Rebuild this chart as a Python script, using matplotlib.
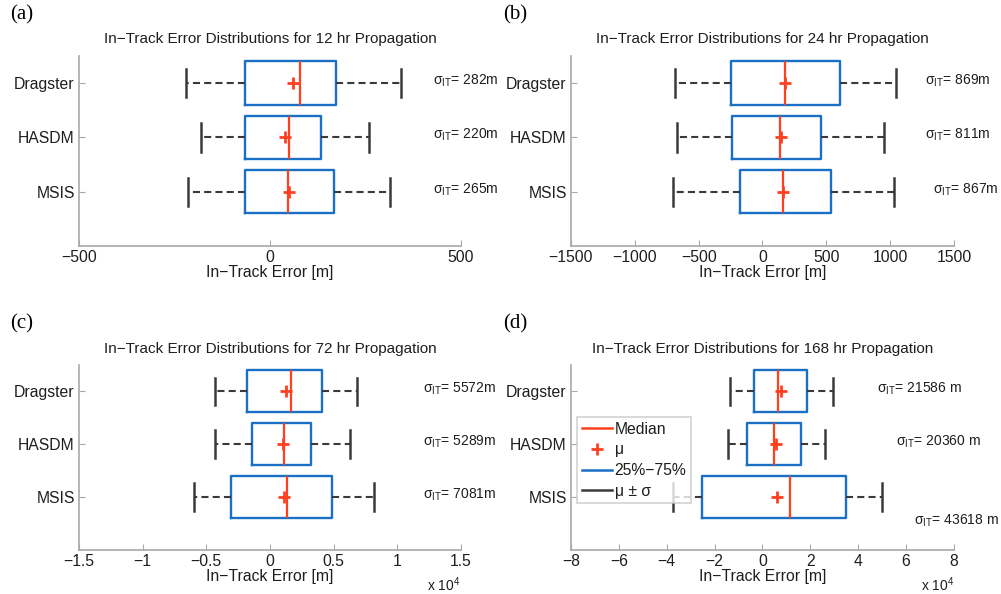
"""In-track error box plots for four propagation spans (12, 24, 72, 168 hr),
three density models each; whiskers show mean +/- one sigma."""

import matplotlib
matplotlib.use("Agg")
import matplotlib.pyplot as plt
from matplotlib.ticker import FuncFormatter
from matplotlib.lines import Line2D

plt.rcParams['font.family'] = ['Liberation Sans', 'DejaVu Sans']
plt.rcParams['mathtext.fontset'] = 'custom'
plt.rcParams['mathtext.rm'] = 'Liberation Sans'
plt.rcParams['mathtext.it'] = 'Liberation Sans:italic'

# models, bottom to top
models = ['MSIS', 'HASDM', 'Dragster']

# 12 hr
q1_12 = [-66, -65, -65]
q3_12 = [168, 133, 173]
med_12 = [48, 51, 78]
mean_12 = [50, 40, 61]
sig_12 = [265, 220, 282]

# 24 hr
q1_24 = [-177, -237, -250]
q3_24 = [535, 457, 605]
med_24 = [159, 141, 175]
mean_24 = [164, 142, 180]
sig_24 = [867, 811, 869]

# 72 hr
q1_72 = [-3063, -1440, -1832]
q3_72 = [4895, 3220, 4058]
med_72 = [1361, 1073, 1649]
mean_72 = [1099, 995, 1260]
sig_72 = [7081, 5289, 5572]

# 168 hr
q1_168 = [-25300, -6540, -3620]
q3_168 = [35060, 16280, 18500]
med_168 = [11550, 5000, 6680]
mean_168 = [6260, 5800, 7930]
sig_168 = [43618, 20360, 21586]

BLUE = '#1a6fc6'
RED = '#ff4020'
GRAY = '#3a3a3a'
AXGRAY = '#a8a8a8'
TXT = '#1e1e1e'


def fmt_minus(v, pos, scale=1.0):
    s = '%g' % (v / scale)
    return s.replace('-', '\u2212')


def draw_panel(ax, q1, q3, med, mean, sig, title, xlim, xticks, scale,
               sig_x, sig_y, unit):
    stats = []
    for i in range(len(models)):
        stats.append(dict(med=med[i], q1=q1[i], q3=q3[i], mean=mean[i],
                          whislo=mean[i] - sig[i], whishi=mean[i] + sig[i],
                          fliers=[], label=models[i]))
    ax.bxp(stats, positions=[1, 2, 3], widths=0.8, capwidths=0.52,
           orientation='horizontal', showmeans=True,
           boxprops=dict(color=BLUE, linewidth=1.7),
           medianprops=dict(color=RED, linewidth=1.6),
           whiskerprops=dict(color=GRAY, linewidth=1.5, linestyle=(0, (3.4, 2.0))),
           capprops=dict(color=GRAY, linewidth=1.8),
           meanprops=dict(marker='+', markeredgecolor=RED, markersize=8,
                          markeredgewidth=2.0))
    ax.set_ylim(0, 3.5)
    ax.set_xlim(*xlim)
    ax.set_xticks(xticks)
    ax.xaxis.set_major_formatter(FuncFormatter(lambda v, p: fmt_minus(v, p, scale)))
    ax.set_yticks([1, 2, 3])
    ax.set_yticklabels(models)
    for s in ['top', 'right']:
        ax.spines[s].set_visible(False)
    for s in ['left', 'bottom']:
        ax.spines[s].set_color(AXGRAY)
        ax.spines[s].set_linewidth(1.2)
    ax.tick_params(direction='in', length=4, color=AXGRAY, labelsize=11.3,
                   labelcolor=TXT, pad=3)
    ax.set_title(title, fontsize=11, color=TXT, pad=9)
    ax.set_xlabel('In\u2212Track Error [m]', fontsize=11.3, color=TXT, labelpad=0)
    for i in range(len(models)):
        ax.text(sig_x[i], sig_y[i], 'σ$_{\\rm IT}$= %d%s' % (sig[i], unit),
                fontsize=10, color=TXT, va='center', ha='left', clip_on=False)


fig = plt.figure(figsize=(10.01, 5.94), dpi=100)
ax_a = fig.add_axes([0.0789, 0.5859, 0.3816, 0.3199])
ax_b = fig.add_axes([0.5704, 0.5859, 0.3826, 0.3199])
ax_c = fig.add_axes([0.0789, 0.0749, 0.3816, 0.3106])
ax_d = fig.add_axes([0.5704, 0.0749, 0.3826, 0.3106])

draw_panel(ax_a, q1_12, q3_12, med_12, mean_12, sig_12,
           'In\u2212Track Error Distributions for 12 hr Propagation',
           (-500, 500), [-500, 0, 500], 1.0,
           [427, 427, 427], [1.04, 2.04, 3.04], 'm')
draw_panel(ax_b, q1_24, q3_24, med_24, mean_24, sig_24,
           'In\u2212Track Error Distributions for 24 hr Propagation',
           (-1500, 1500), [-1500, -1000, -500, 0, 500, 1000, 1500], 1.0,
           [1336, 1276, 1276], [1.04, 2.04, 3.04], 'm')
draw_panel(ax_c, q1_72, q3_72, med_72, mean_72, sig_72,
           'In\u2212Track Error Distributions for 72 hr Propagation',
           (-15000, 15000), [-15000, -10000, -5000, 0, 5000, 10000, 15000], 1e4,
           [11990, 11990, 11990], [1.04, 2.04, 3.04], 'm')
draw_panel(ax_d, q1_168, q3_168, med_168, mean_168, sig_168,
           'In\u2212Track Error Distributions for 168 hr Propagation',
           (-80000, 80000), list(range(-80000, 80001, 20000)), 1e4,
           [63300, 55900, 48000], [0.54, 2.04, 3.04], ' m')

# legend for the 168 hr panel
handles = [Line2D([], [], color=RED, lw=1.8),
           Line2D([], [], color=RED, lw=0, marker='+', markersize=8,
                  markeredgewidth=2.0),
           Line2D([], [], color=BLUE, lw=1.8),
           Line2D([], [], color=GRAY, lw=1.8)]
leg = ax_d.legend(handles, ['Median', 'μ', '25%\u221275%', 'μ ± σ'],
                  loc='upper left', bbox_to_anchor=(577 / 1001, 1 - 417 / 594),
                  bbox_transform=fig.transFigure, fontsize=11.3, frameon=True,
                  fancybox=False, handlelength=1.9, handletextpad=0.2,
                  labelspacing=0.36, borderpad=0.3, borderaxespad=0)
leg.get_frame().set_edgecolor('#c8c8c8')
leg.get_frame().set_linewidth(1.2)
for t in leg.get_texts():
    t.set_color(TXT)

# exponent notes under the last two panels
fig.text(427 / 1001, 1 - 591 / 594, 'x 10$^4$', fontsize=10, color=TXT,
         ha='left', va='baseline')
fig.text(921 / 1001, 1 - 591 / 594, 'x 10$^4$', fontsize=10, color=TXT,
         ha='left', va='baseline')

# panel letters
for lbl, x, y in [('(a)', 10, 15), ('(b)', 503, 15), ('(c)', 10, 324), ('(d)', 503, 324)]:
    fig.text(x / 1001, 1 - y / 594, lbl, fontsize=15, family='Liberation Serif',
             ha='left', va='center', color='black')

fig.savefig('out.png', dpi=100)
